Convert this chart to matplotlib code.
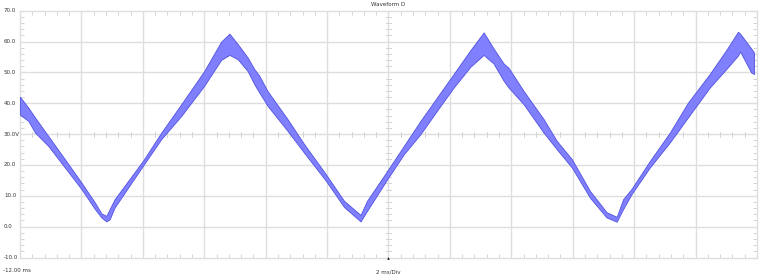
import matplotlib
matplotlib.use("Agg")
import matplotlib.pyplot as plt
import matplotlib.transforms as mtrans
import numpy as np

# ---- data (time in ms, envelope in V) ----
t_ms = [-12.00, -11.73, -11.51, -11.08, -10.54, -10.00, -9.56, -9.35, -9.19, -9.08,
        -8.92, -8.00, -7.40, -6.75, -6.00, -5.45, -5.18, -4.91, -4.59, -4.37,
        -4.21, -4.05, -3.94, -3.29, -2.75, -2.04, -1.45, -0.91, -0.70, -0.04,
        0.50, 1.04, 1.58, 2.12, 2.67, 3.10, 3.42, 3.75, 3.91, 4.40,
        5.05, 5.48, 5.97, 6.56, 7.10, 7.43, 7.64, 7.91, 8.51, 9.16,
        9.75, 10.46, 11.00, 11.38, 11.45, 11.81, 11.90]
v_upper = [42.1, 38.6, 35.4, 29.4, 21.9, 14.3, 7.8, 4.3, 3.5, 5.7,
           8.9, 21.3, 30.5, 39.7, 50.5, 60.0, 62.6, 59.2, 54.9, 51.1,
           49.0, 46.0, 44.0, 34.9, 26.8, 17.0, 8.4, 3.8, 8.4, 18.1,
           26.2, 34.3, 41.9, 49.5, 57.3, 63.0, 57.8, 52.9, 51.5, 44.0,
           34.9, 27.8, 21.9, 11.6, 4.7, 3.2, 8.9, 12.2, 21.3, 30.5,
           40.2, 49.5, 57.3, 63.2, 62.6, 57.8, 56.5]
v_lower = [36.3, 34.3, 30.5, 26.2, 19.2, 12.2, 5.7, 3.0, 1.7, 2.4,
           6.2, 19.7, 28.4, 35.9, 45.7, 54.1, 55.7, 54.3, 50.5, 46.2,
           43.5, 41.0, 39.2, 31.1, 24.0, 14.9, 6.4, 1.7, 5.1, 15.4,
           23.5, 30.0, 37.6, 45.1, 51.9, 55.7, 52.9, 47.3, 45.1, 39.7,
           30.5, 25.1, 19.2, 9.4, 3.0, 1.6, 5.7, 10.5, 19.2, 27.3,
           35.4, 45.1, 51.1, 55.5, 56.8, 50.0, 49.5]

x_major = [-12, -10, -8, -6, -4, -2, 0, 2, 4, 6, 8, 10, 12]
y_major = [-10, 0, 10, 20, 30, 40, 50, 60, 70]
y_labels = ["-10.0", "0.0", "10.0", "20.0", "30.0V", "40.0", "50.0", "60.0", "70.0"]
title = "Waveform D"
x_left_label = "-12.00 ms"
x_center_label = "2 ms/Div"

W, H = 768, 276
fig = plt.figure(figsize=(W / 100, H / 100), dpi=100)
fig.patch.set_facecolor("white")
ax = fig.add_axes([20 / W, (H - 257.5) / H, 737 / W, 246.7 / H])
ax.set_xlim(-12, 12)
ax.set_ylim(-10, 70)

grid_c = "#dedede"
tick_c = "#d4d4d4"

# grid
for xv in x_major[1:-1]:
    ax.axvline(xv, color=grid_c, lw=1.0, zorder=0)
for yv in y_major[1:-1]:
    ax.axhline(yv, color=grid_c, lw=1.0, zorder=0)

for s in ax.spines.values():
    s.set_color(grid_c)
    s.set_linewidth(1.0)

ax.set_xticks(x_major)
ax.set_yticks(y_major)
ax.set_xticklabels([])
ax.set_yticklabels([])
ax.set_xticks(np.arange(-12, 12.01, 0.4), minor=True)
ax.set_yticks(np.arange(-10, 70.01, 2), minor=True)
ax.tick_params(which="both", direction="in", top=True, right=True,
               color=tick_c, width=0.7)
ax.tick_params(which="major", length=0)
ax.tick_params(which="minor", length=3)

# center cross-hair ticks
xm = ax.get_xticks(minor=True)
ym = ax.get_yticks(minor=True)
dy = 80 / 246.7 * 2.5
dx = 24 / 737 * 2.5
for xv in xm:
    ax.plot([xv, xv], [30 - dy, 30 + dy], color=tick_c, lw=0.7, zorder=0)
for yv in ym:
    ax.plot([-dx, dx], [yv, yv], color=tick_c, lw=0.7, zorder=0)

# waveform band
ax.fill_between(t_ms, v_lower, v_upper, facecolor="#8080ff", edgecolor="#5050e0",
                linewidth=0.6, zorder=3)

# trigger marker
ax.plot([0], [-10], marker="^", ms=1.8, color="black", mew=0, clip_on=False, zorder=5)

# labels
fnt = dict(fontsize=4, family="DejaVu Sans", color="#333333")
tr = mtrans.blended_transform_factory(fig.transFigure, ax.transData)
for yv, lab in zip(y_major, y_labels):
    ax.text(4 / W, yv, lab, transform=tr, ha="left", va="center", **fnt)
fig.text(388 / W, 1 - 4.5 / H, title, ha="center", va="center", **fnt)
fig.text(3 / W, 1 - 271 / H, x_left_label, ha="left", va="center", **fnt)
fig.text(388 / W, 1 - 271.5 / H, x_center_label, ha="center", va="center", **fnt)

fig.savefig("out.png", dpi=100, facecolor="white")
